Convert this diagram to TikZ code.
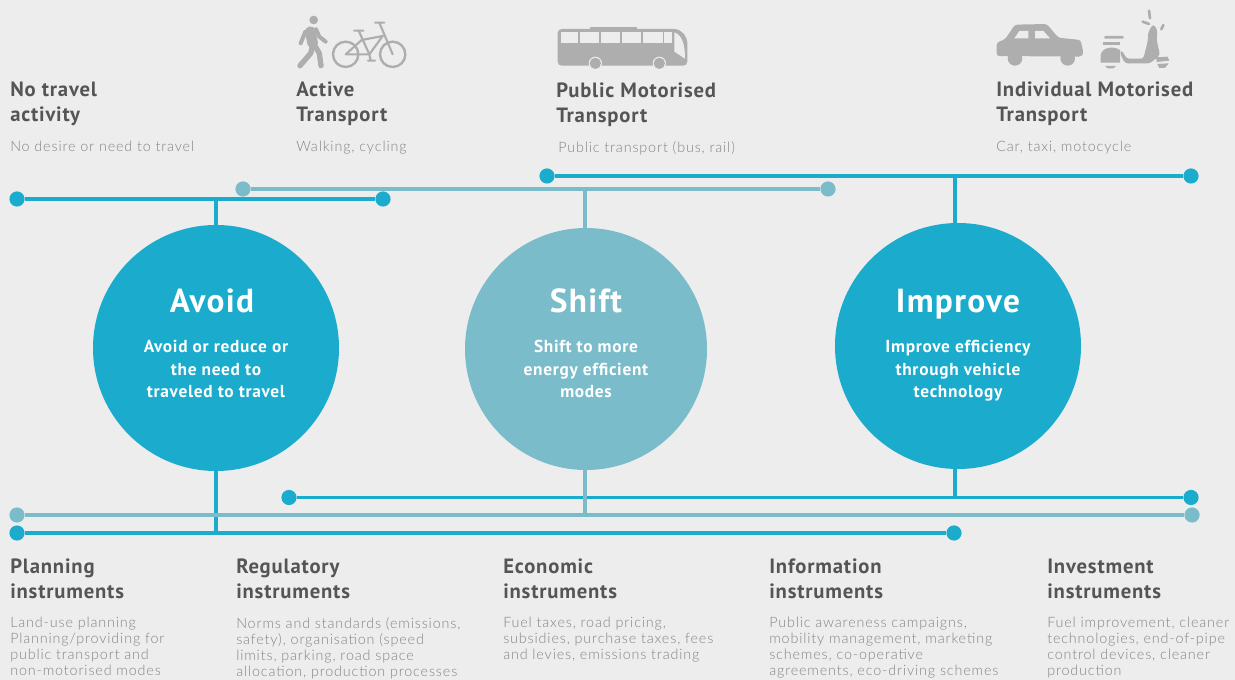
\documentclass[tikz,border=0pt]{standalone}
\usepackage{fontspec}
\setmainfont[LetterSpace=4]{PT Sans}
\newfontfamily\lightfont[LetterSpace=6]{Lato Light}
\usepackage{tikz}
\usetikzlibrary{positioning}
\definecolor{bluemain}{HTML}{1AABCD}
\definecolor{tealmain}{HTML}{7BBCCB}
\definecolor{bgmain}{HTML}{EDEDED}
\definecolor{iconmain}{HTML}{AEAEAE}
\definecolor{headmain}{HTML}{555555}
\definecolor{textmain}{HTML}{848484}

\begin{document}
\begin{tikzpicture}[x=0.75pt,y=-0.75pt,
  main node/.style={circle,inner sep=0pt,outer sep=0pt,text=white,align=center,font=\bfseries\fontsize{13}{16.9}\selectfont},
  dot node/.style={circle,inner sep=0pt,outer sep=0pt,minimum size=11.4pt},
  head node/.style={anchor=north west,inner sep=0pt,align=left,text=headmain,font=\bfseries\fontsize{15.5}{18.75}\selectfont},
  text node/.style={anchor=north west,inner sep=0pt,align=left,text=textmain,font=\lightfont\fontsize{10.75}{12}\selectfont},
  big text/.style={font=\bfseries\fontsize{25}{30}\selectfont}]

  \useasboundingbox (0,0) rectangle (1235,680);
  \fill[bgmain] (0,0) rectangle (1235,680);

  % circles
  \node[main node, fill=bluemain, minimum size=184.5pt] (avoid) at (216,348) {};
  \node[main node, fill=tealmain, minimum size=181.5pt] (shift) at (586,349) {};
  \node[main node, fill=bluemain, minimum size=184.5pt] (improve) at (958,346) {};

  \node[main node, big text] (avoidtitle) at (212,301) {Avoid};
  \node[main node] (avoidtext) at (216,369) {Avoid or reduce or\\the need to\\traveled to travel};
  \node[main node, big text] (shifttitle) at (586,301) {Shift};
  \node[main node] (shifttext) at (586,369) {Shift to more\\energy efficient\\modes};
  \node[main node, big text] (improvetitle) at (958,304) {Improve};
  \node[main node] (improvetext) at (958,371) {Improve efficiency\\through vehicle\\technology};

  % dots, top
  \node[dot node, fill=bluemain] (a1) at (17,199) {};
  \node[dot node, fill=bluemain] (a2) at (383,199) {};
  \node[dot node, fill=tealmain] (s1) at (243,189) {};
  \node[dot node, fill=tealmain] (s2) at (828,189) {};
  \node[dot node, fill=bluemain] (i1) at (547,176) {};
  \node[dot node, fill=bluemain] (i2) at (1191,176) {};

  % dots, bottom
  \node[dot node, fill=bluemain] (i3) at (289,497.5) {};
  \node[dot node, fill=bluemain] (i4) at (1191,497.5) {};
  \node[dot node, fill=tealmain] (s3) at (17,515) {};
  \node[dot node, fill=tealmain] (s4) at (1192,515) {};
  \node[dot node, fill=bluemain] (a3) at (17,533) {};
  \node[dot node, fill=bluemain] (a4) at (954,533) {};

  \coordinate (a5) at (216,199);
  \coordinate (a6) at (216,533);
  \coordinate (s5) at (585,189);
  \coordinate (s6) at (585,515);
  \coordinate (i5) at (955,176);
  \coordinate (i6) at (955,497.5);

  \path[line width=2.8pt, color=bluemain]
    (a1) edge (a2)
    (i1) edge (i2)
    (i3) edge (i4)
    (a3) edge (a4)
    (avoid) edge (a5)
    (avoid) edge (a6)
    (improve.north -| i5) edge (i5)
    (improve.south -| i6) edge (i6);
  \path[line width=2.8pt, color=tealmain]
    (s1) edge (s2)
    (s3) edge (s4)
    (shift.north -| s5) edge (s5)
    (shift.south -| s6) edge (s6);

  % top texts
  \node[head node] (h1) at (10,82) {No travel\\activity};
  \node[head node] (h2) at (296,82) {Active\\Transport};
  \node[head node] (h3) at (556,83) {Public Motorised\\Transport};
  \node[head node] (h4) at (996,82) {Individual Motorised\\Transport};
  \node[text node] (t1) at (10,141) {No desire or need to travel};
  \node[text node] (t2) at (296,141) {Walking, cycling};
  \node[text node] (t3) at (558,141) {Public transport (bus, rail)};
  \node[text node] (t4) at (996,141) {Car, taxi, motocycle};

  % bottom texts
  \node[head node] (h5) at (10,559) {Planning\\instruments};
  \node[head node] (h6) at (236,559) {Regulatory\\instruments};
  \node[head node] (h7) at (503,559) {Economic\\instruments};
  \node[head node] (h8) at (769,559) {Information\\instruments};
  \node[head node] (h9) at (1047,559) {Investment\\instruments};
  \node[text node] (t5) at (10,617) {Land-use planning\\Planning/providing for\\public transport and\\non-motorised modes};
  \node[text node] (t6) at (236,617) {Norms and standards (emissions,\\safety), organisation (speed\\limits, parking, road space\\allocation, production processes};
  \node[text node] (t7) at (503,617) {Fuel taxes, road pricing,\\subsidies, purchase taxes, fees\\and levies, emissions trading};
  \node[text node] (t8) at (769,617) {Public awareness campaigns,\\mobility management, marketing\\schemes, co-operative\\agreements, eco-driving schemes};
  \node[text node] (t9) at (1047,617) {Fuel improvement, cleaner\\technologies, end-of-pipe\\control devices, cleaner\\production};

  % walker and bicycle
  \begin{scope}[shift={(280,0)},x=0.25pt,y=-0.25pt,color=iconmain,line cap=round,line join=round]
    \fill (101,60) circle (13);
    \draw[line width=8pt] (91,95) -- (98,130);
    \draw[line width=4pt] (100,130) -- (92,160) -- (60,197);
    \draw[line width=4pt] (100,130) -- (118,160) -- (123,197);
    \draw[line width=3pt] (76,95) -- (62,130);
    \draw[line width=3pt] (108,88) -- (118,110) -- (137,125);
    \draw[line width=1.8pt] (197,163) circle (38);
    \draw[line width=1.8pt] (338,163) circle (38);
    \draw[line width=1.6pt] (197,163) -- (268,163) -- (236,92) (245,120) -- (308,108) -- (268,163)
      (245,120) -- (197,163) (298,68) -- (338,163);
    \draw[line width=1.6pt] (222,92) -- (250,92) (285,68) -- (313,68) (264,182) -- (285,182) (268,163) -- (272,182);
  \end{scope}

  % bus
  \begin{scope}[shift={(280,0)},x=0.25pt,y=-0.25pt]
    \fill[iconmain, rounded corners=3pt] (833,197) -- (833,87) -- (1170,87) .. controls (1205,87) and (1222,110) .. (1222,140) -- (1222,197) -- cycle;
    \fill[iconmain] (930,88) -- (930,80) -- (1072,80) -- (1072,88) -- cycle;
    \foreach \xa/\xb in {843/893,899/956,962/1020,1026/1084,1090/1148,1153/1177}
      \fill[bgmain] (\xa,96) rectangle (\xb,128);
    \fill[bgmain] (1183,97) .. controls (1205,105) and (1215,130) .. (1215,176) -- (1183,155) -- cycle;
    \foreach \xa in {946,1138} {
      \fill[bgmain] (\xa,190) circle (20);
      \fill[iconmain] (\xa,190) circle (17);
    }
  \end{scope}

  % car
  \begin{scope}[shift={(980,0)},x=0.25pt,y=-0.25pt]
    \fill[iconmain, rounded corners=2pt] (50,168) -- (50,128) -- (75,118) -- (105,74) -- (200,72) -- (235,113) -- (302,120) -- (310,158) -- (305,170) -- cycle;
    \fill[iconmain] (105,175) circle (22);
    \fill[iconmain] (263,175) circle (22);
    \fill[bgmain] (103,115) -- (118,93) -- (145,93) -- (145,115) -- cycle;
    \fill[bgmain] (165,93) -- (190,93) -- (210,115) -- (165,115) -- cycle;
  \end{scope}

  % scooter
  \begin{scope}[shift={(980,0)},x=0.25pt,y=-0.25pt]
    \fill[iconmain, rounded corners=1pt] (372,108) rectangle (432,116);
    \fill[iconmain] (370,126) rectangle (420,136);
    \fill[iconmain] (362,188) -- (362,165) .. controls (365,145) and (395,135) .. (420,150) -- (420,188) -- cycle;
    \fill[iconmain] (375,198) -- (408,198) -- (400,205) -- (383,205) -- cycle;
    \fill[iconmain, rounded corners=2pt] (425,150) -- (440,176) -- (490,176) -- (503,125) -- (505,95) -- (520,72) -- (532,90) -- (530,120) -- (540,165) -- (510,190) -- (435,190) -- (420,160) -- cycle;
    \fill[iconmain] (528,172) -- (562,170) -- (568,182) -- (530,186) -- cycle;
    \fill[iconmain] (532,192) -- (566,190) -- (555,204) -- (538,204) -- cycle;
    \draw[iconmain, line width=2pt, line cap=round] (507,32) -- (510,55) (488,65) -- (507,72) (550,75) -- (544,88);
  \end{scope}
\end{tikzpicture}
\end{document}
